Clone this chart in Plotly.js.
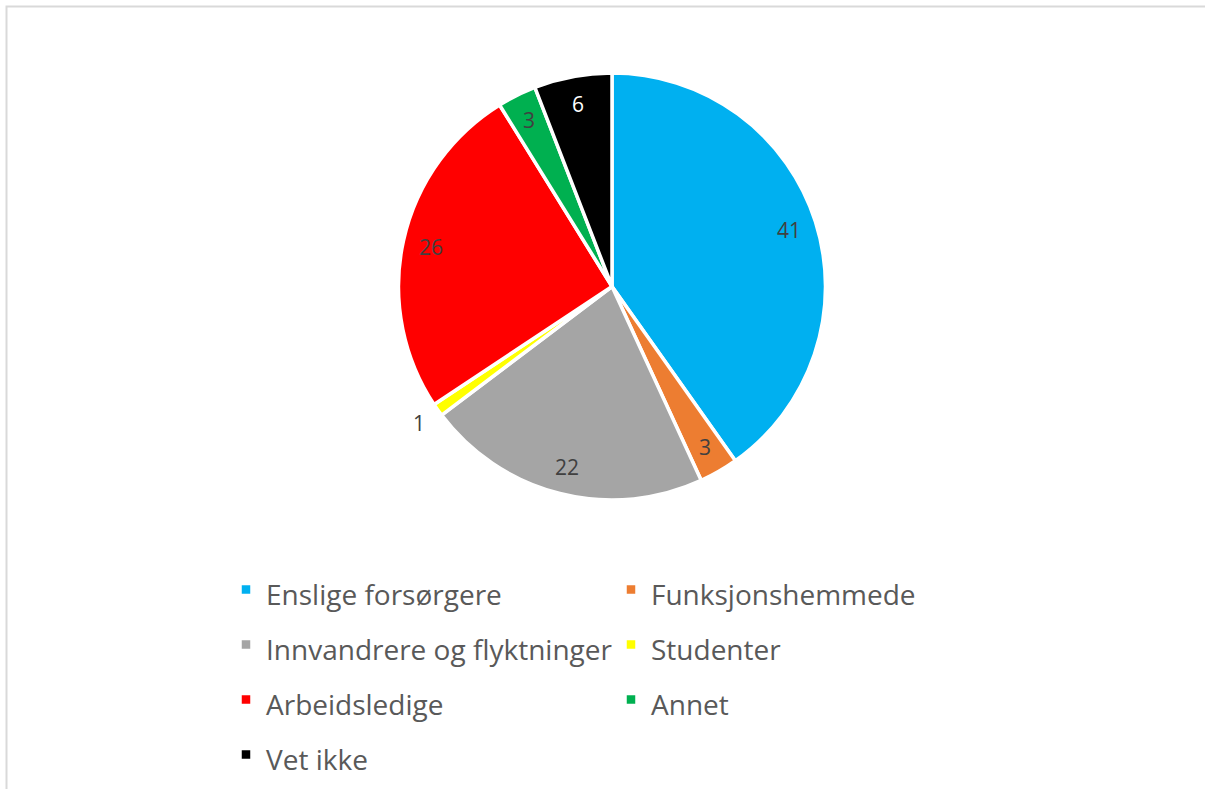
<!DOCTYPE html>
<html>
<head>
<meta charset="utf-8">
<script src="https://cdn.plot.ly/plotly-3.0.1.min.js"></script>
<style>html,body{margin:0;padding:0;background:#fff;}#chart{width:1205px;height:789px;}</style>
</head>
<body>
<div id="chart"></div>
<script>
var categories = ["Enslige forsørgere", "Funksjonshemmede", "Innvandrere og flyktninger", "Studenter", "Arbeidsledige", "Annet", "Vet ikke"];
var values = [41, 3, 22, 1, 26, 3, 6];
var sliceColors = ["#00B0F0", "#ED7D31", "#A5A5A5", "#FFFF00", "#FF0000", "#00B050", "#000000"];
var labelColors = ["#404040", "#404040", "#404040", "#404040", "#404040", "#404040", "#FFFFFF"];
var labelOutside = [false, false, false, true, false, false, false];

var W = 1205, H = 789;
var M = {l: 0, r: 300, t: 0, b: 0};
var PW = W - M.l - M.r, PH = H - M.t - M.b;
function fx(px) { return (px - M.l) / PW; }
function fy(py) { return 1 - (py - M.t) / PH; }

// pie geometry (pixels)
var CX = 612, CY = 286.5, R = 213.5;

var trace = {
  type: "pie",
  labels: categories.map(function (c) { return '<span style="font-size:28px">' + c + '</span>'; }),
  values: values,
  sort: false,
  direction: "clockwise",
  rotation: 0,
  marker: {colors: sliceColors, line: {color: "#FFFFFF", width: 3.5}},
  textinfo: "none",
  automargin: false,
  domain: {x: [fx(CX - 250), fx(CX + 250)], y: [fy(CY + R), fy(CY - R)]},
  hoverinfo: "label+value"
};

// data labels positioned from the slice values
var total = values.reduce(function (a, b) { return a + b; }, 0);
var annotations = [];
var cum = 0;
values.forEach(function (v, i) {
  var mid = (cum + v / 2) / total * 2 * Math.PI;
  cum += v;
  var r = labelOutside[i] ? 1.105 * R : 0.87 * R;
  var px = CX + r * Math.sin(mid);
  var py = CY - r * Math.cos(mid);
  annotations.push({
    xref: "paper", yref: "paper",
    x: fx(px), y: fy(py),
    xanchor: "center", yanchor: "middle",
    text: String(v), showarrow: false,
    font: {family: "Open Sans, sans-serif", size: 21, color: labelColors[i]}
  });
});

var layout = {
  width: W, height: H,
  margin: M,
  paper_bgcolor: "#FFFFFF",
  plot_bgcolor: "#FFFFFF",
  showlegend: true,
  legend: {
    orientation: "h",
    x: fx(226), xanchor: "left",
    y: fy(557), yanchor: "top",
    entrywidth: 340, entrywidthmode: "pixels",
    font: {family: "Open Sans, sans-serif", size: 40, color: "#595959"},
    traceorder: "normal"
  },
  annotations: annotations,
  shapes: [{
    type: "rect", xref: "paper", yref: "paper",
    x0: fx(6.5), x1: fx(W + 10), y0: fy(H + 10), y1: fy(6.5),
    line: {color: "#D9D9D9", width: 2}, fillcolor: "rgba(0,0,0,0)"
  }]
};

Plotly.newPlot("chart", [trace], layout, {displayModeBar: false, staticPlot: true});
</script>
</body>
</html>
